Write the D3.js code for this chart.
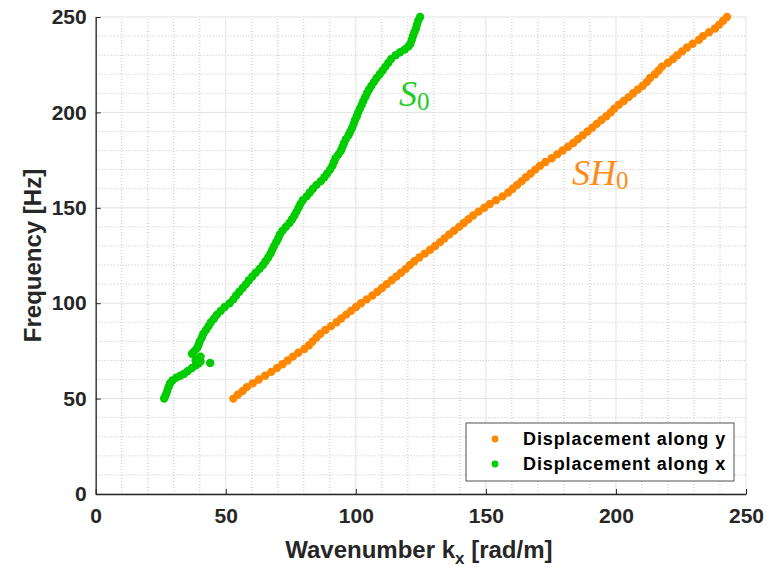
<!DOCTYPE html>
<html lang="en">
<head>
<meta charset="utf-8">
<title>Dispersion curves</title>
<script src="https://d3js.org/d3.v7.min.js"></script>
<style>
  body { margin: 0; background: #fff; }
  text { font-family: "Liberation Sans", Arial, sans-serif; }
</style>
</head>
<body>
<script>
// SH0 mode (displacement along y): frequency [Hz] and wavenumber [rad/m]
var shFreq = [50,52,54,56,58,60,62,64,66,68,70,72,74,76,78,80,82,84,86,88,90,92,94,96,98,
  100,102,104,106,108,110,112,114,116,118,120,122,124,126,128,130,132,134,136,138,140,142,144,146,148,
  150,152,154,156,158,160,162,164,166,168,170,172,174,176,178,180,182,184,186,188,190,192,194,196,198,
  200,202,204,206,208,210,212,214,216,218,220,222,224,226,228,230,232,234,236,238,240,242,244,246,248,250];
var shK = [52.9,54.6,56.5,58.1,60.4,62.7,65.1,67.5,69.7,71.8,73.8,75.8,77.9,80.2,82.0,83.4,84.9,86.4,88.3,90.5,92.6,94.4,96.3,98.2,100.1,
  102.0,104.2,106.4,108.3,110.1,111.9,113.8,115.6,117.4,119.2,120.8,122.5,124.4,126.5,128.6,130.5,132.4,134.1,135.9,137.8,139.7,141.5,143.3,145.1,147.2,
  149.4,151.5,153.9,156.4,158.6,160.3,162.0,163.8,165.4,167.2,169.0,170.8,172.9,175.3,177.4,179.5,181.6,183.6,185.4,187.3,189.1,190.9,192.6,194.4,196.3,
  198.0,199.4,201.1,203.0,204.9,206.6,208.4,210.3,211.9,213.1,215.0,216.4,217.7,220.0,222.0,223.6,225.5,227.3,229.5,231.9,233.5,235.8,238.1,239.7,241.2,242.7];

// S0 mode (displacement along x)
var sFreq = [50,51,52,54,56,58,59.5,61,62,63,64.5,66,67.5,68.5,69.5,70,71,72,73.5,75,76.5,68.7,78,80,82,84,86,88,90,92,94,96,98,
  100,102,104,106,108,110,112,114,116,118,120,122,124,126,128,130,132,134,136,138,140,142,144,146,148,
  150,152,154,156,158,160,162,164,166,168,170,172,174,176,178,180,182,184,186,188,190,192,194,196,198,
  200,202,204,206,208,210,212,214,216,218,220,222,224,226,228,230,231.5,233,234.5,236,238,240,242,244,246,248,250];
var sK = [26.3,26.6,27.0,27.5,28.0,28.6,29.5,31.0,32.5,34.0,35.4,37.0,38.5,39.6,40.3,38.4,39.4,40.3,37.0,38.0,39.0,44.0,39.5,40.0,40.8,41.4,42.4,43.4,44.3,45.5,46.6,48.1,49.6,
  51.5,52.9,54.0,55.2,56.5,57.8,58.9,60.2,61.5,63.0,64.3,65.3,66.3,67.2,67.9,68.6,69.4,70.2,70.8,71.8,73.1,74.5,75.5,76.4,77.2,
  78.0,78.7,79.6,81.1,82.3,83.5,84.9,86.6,87.9,89.0,90.1,91.0,91.6,92.2,93.3,94.3,94.9,95.5,96.2,97.2,97.9,98.6,99.2,99.7,100.4,
  100.9,101.6,102.3,102.9,103.6,104.3,105.1,106.0,107.0,108.0,109.2,110.3,111.4,112.5,113.6,115.3,117.0,118.8,120.2,121.0,121.5,122.0,122.5,123.1,123.5,124.0,124.7];

var majorTicks = [0,50,100,150,200,250];
var legendLabels = ["Displacement along y", "Displacement along x"];
var colors = ["#ff8800", "#00cc00"];

var width = 780, height = 570;
var margin = {left: 95.7, right: 34, top: 17, bottom: 76};

var svg = d3.select("body").append("svg")
    .attr("width", width)
    .attr("height", height);

var x = d3.scaleLinear().domain([0, 250]).range([margin.left, width - margin.right]);
var y = d3.scaleLinear().domain([0, 250]).range([height - margin.bottom, margin.top]);

// minor grid (dotted)
var minor = d3.range(10, 250, 10).filter(function(v) { return v % 50 != 0; });
svg.append("g").selectAll("line").data(minor).enter().append("line")
    .attr("x1", d => x(d)).attr("x2", d => x(d))
    .attr("y1", y(0)).attr("y2", y(250))
    .attr("stroke", "#c4c4c4").attr("stroke-dasharray", "1,2");
svg.append("g").selectAll("line").data(minor).enter().append("line")
    .attr("y1", d => y(d)).attr("y2", d => y(d))
    .attr("x1", x(0)).attr("x2", x(250))
    .attr("stroke", "#c4c4c4").attr("stroke-dasharray", "1,2");

// major grid
svg.append("g").selectAll("line").data(majorTicks).enter().append("line")
    .attr("x1", d => x(d)).attr("x2", d => x(d))
    .attr("y1", y(0)).attr("y2", y(250))
    .attr("stroke", "#e2e2e2");
svg.append("g").selectAll("line").data(majorTicks).enter().append("line")
    .attr("y1", d => y(d)).attr("y2", d => y(d))
    .attr("x1", x(0)).attr("x2", x(250))
    .attr("stroke", "#e2e2e2");

// axes
var xAxis = svg.append("g")
    .attr("transform", "translate(0," + y(0) + ")")
    .call(d3.axisBottom(x).tickValues(majorTicks).tickSizeInner(-5).tickSizeOuter(0).tickPadding(14));
var yAxis = svg.append("g")
    .attr("transform", "translate(" + x(0) + ",0)")
    .call(d3.axisLeft(y).tickValues(majorTicks).tickSizeInner(-5).tickSizeOuter(0).tickPadding(9));
[xAxis, yAxis].forEach(function(g) {
    g.select(".domain").attr("stroke", "#262626").attr("stroke-width", 1.3);
    g.selectAll(".tick line").attr("stroke", "#262626");
    g.selectAll(".tick text")
        .attr("fill", "#262626")
        .style("font-size", "21px")
        .style("font-weight", "bold");
});

// data points
function drawSeries(fr, kk, color) {
    svg.append("g").selectAll("circle")
        .data(fr.map(function(f, i) { return [kk[i], f]; }))
        .enter().append("circle")
        .attr("cx", d => x(d[0]))
        .attr("cy", d => y(d[1]))
        .attr("r", 4.2)
        .attr("fill", color);
}
drawSeries(shFreq, shK, colors[0]);
drawSeries(sFreq, sK, colors[1]);

// mode labels
var s0 = svg.append("text")
    .attr("x", 399).attr("y", 106)
    .attr("fill", "#22cc22")
    .style("font-family", "'Liberation Serif', serif")
    .style("font-style", "italic")
    .style("font-size", "36px");
s0.append("tspan").text("S");
s0.append("tspan").attr("dy", 4).style("font-style", "normal").style("font-size", "25px").text("0");

var sh0 = svg.append("text")
    .attr("x", 572).attr("y", 185)
    .attr("fill", "#ff8c1a")
    .style("font-family", "'Liberation Serif', serif")
    .style("font-style", "italic")
    .style("font-size", "36px");
sh0.append("tspan").text("SH");
sh0.append("tspan").attr("dy", 4).style("font-style", "normal").style("font-size", "25px").text("0");

// axis labels
svg.append("text")
    .attr("transform", "translate(41," + (y(125)) + ") rotate(-90)")
    .attr("text-anchor", "middle")
    .attr("fill", "#262626")
    .style("font-size", "24px").style("font-weight", "bold")
    .text("Frequency [Hz]");

var xl = svg.append("text")
    .attr("x", x(125) - 2).attr("y", 558)
    .attr("text-anchor", "middle")
    .attr("fill", "#262626")
    .style("font-size", "24px").style("font-weight", "bold");
xl.append("tspan").text("Wavenumber k");
xl.append("tspan").attr("dy", 6).style("font-size", "17px").text("x");
xl.append("tspan").attr("dy", -6).text(" [rad/m]");

// legend
var lg = svg.append("g");
lg.append("rect")
    .attr("x", 466).attr("y", 423).attr("width", 268).attr("height", 58)
    .attr("fill", "#fff").attr("stroke", "#262626").attr("stroke-width", 0.8);
legendLabels.forEach(function(lab, i) {
    lg.append("circle").attr("cx", 495).attr("cy", 439 + i * 25).attr("r", 3.4).attr("fill", colors[i]);
    lg.append("text").attr("x", 523).attr("y", 445 + i * 25)
        .attr("fill", "#000")
        .style("font-size", "18px").style("font-weight", "bold")
        .style("letter-spacing", "0.9px")
        .text(lab);
});
</script>
</body>
</html>
